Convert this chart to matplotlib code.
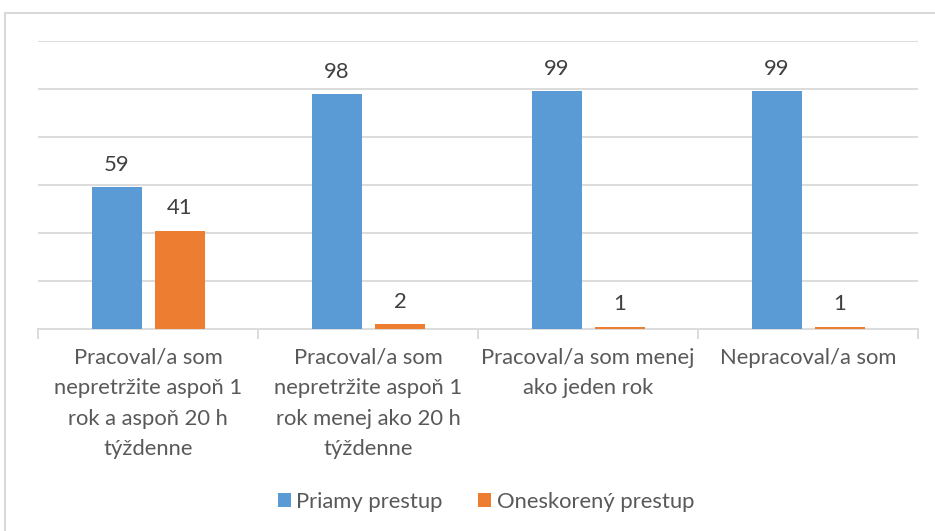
import matplotlib
matplotlib.use('Agg')
import matplotlib.pyplot as plt
from matplotlib.patches import Rectangle
import numpy as np

plt.rcParams['font.family'] = ['Lato', 'DejaVu Sans']

# data
categories = [
    "Pracoval/a som\nnepretržite aspoň 1\nrok a aspoň 20 h\ntýždenne",
    "Pracoval/a som\nnepretržite aspoň 1\nrok menej ako 20 h\ntýždenne",
    "Pracoval/a som menej\nako jeden rok",
    "Nepracoval/a som",
]
priamy = [59, 98, 99, 99]
oneskoreny = [41, 2, 1, 1]
series_names = ["Priamy prestup", "Oneskorený prestup"]

blue = '#5B9BD5'
orange = '#ED7D31'
text_col = '#595959'
grid_col = '#D9D9D9'
fs = 15.8

fig = plt.figure(figsize=(9.35, 5.31), dpi=100)
# outer chart frame, running off the bottom/right of the picture
fig.patches.append(Rectangle((5/935, -0.1), 1.1, 1.1 - 13/531, transform=fig.transFigure,
                             fill=False, edgecolor=grid_col, linewidth=1.5))

ax = fig.add_axes([38/935, 1 - 329/531, 880/935, 288/531])
x = np.arange(len(categories))
w = 0.227
b1 = ax.bar(x - 0.143, priamy, w, color=blue, label=series_names[0], zorder=3)
b2 = ax.bar(x + 0.145, oneskoreny, w, color=orange, label=series_names[1], zorder=3)

for bars in (b1, b2):
    for r in bars:
        ax.annotate(f"{r.get_height():.0f}", (r.get_x() + r.get_width()/2, r.get_height()),
                    xytext=(0, 16), textcoords='offset points', ha='center', va='center',
                    fontsize=fs, color='#404040')

ax.set_xlim(-0.5, len(categories) - 0.5)
ax.set_ylim(0, 120)
ax.set_yticks([20, 40, 60, 80, 100, 120])
ax.yaxis.grid(True, color=grid_col, linewidth=1.3, zorder=0)
ax.tick_params(axis='y', length=0, labelleft=False)
for s in ['left', 'right', 'top']:
    ax.spines[s].set_visible(False)
ax.spines['bottom'].set_color(grid_col)
ax.spines['bottom'].set_linewidth(1.3)

ax.set_xticks(np.arange(-0.5, len(categories), 1.0))
ax.tick_params(axis='x', length=7, color=grid_col, width=1.3, labelbottom=False)

for i, lab in enumerate(categories):
    ax.text(i, -0.065, lab, transform=ax.get_xaxis_transform(), ha='center', va='top',
            fontsize=fs, color=text_col, linespacing=1.66)

fig.legend(handles=[b1, b2], loc='center', bbox_to_anchor=(486/935, 1 - 502/531),
           ncol=2, frameon=False, fontsize=fs, labelcolor=text_col,
           handlelength=0.6, handleheight=0.6, handletextpad=0.25, columnspacing=1.6)

fig.savefig('out.png', dpi=100)
